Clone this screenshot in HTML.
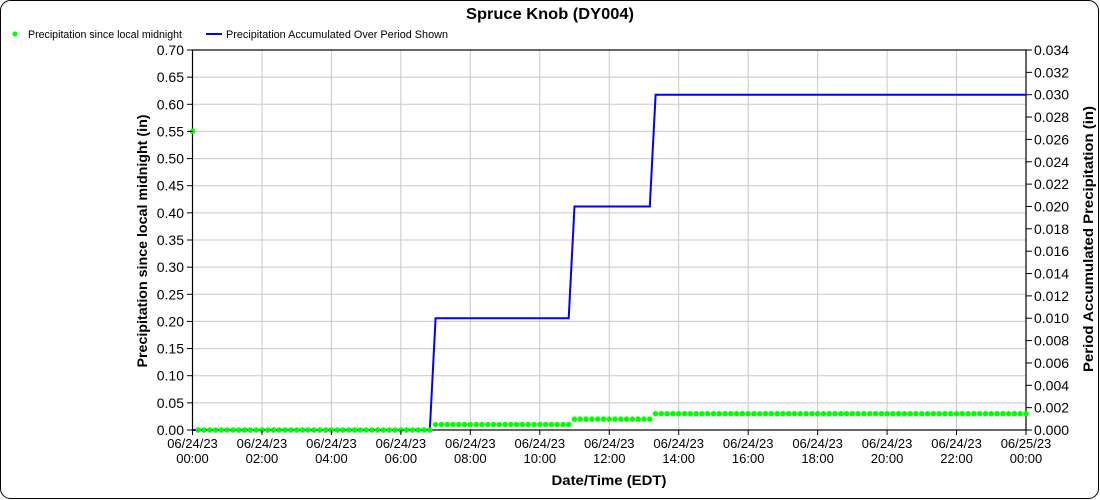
<!DOCTYPE html>
<html>
<head>
<meta charset="utf-8">
<style>
html,body{margin:0;padding:0;background:#fff;}
svg{display:block;font-family:"Liberation Sans",Arial,sans-serif;}
</style>
</head>
<body>
<svg width="1100" height="500" viewBox="0 0 1100 500" xmlns="http://www.w3.org/2000/svg">
<rect x="0.5" y="0.5" width="1098" height="498" rx="10" ry="10" fill="#fff" stroke="#000" stroke-width="1"/>

<!-- title -->
<text x="550" y="19" font-size="16" font-weight="bold" text-anchor="middle" textLength="168" lengthAdjust="spacingAndGlyphs">Spruce Knob (DY004)</text>

<!-- legend -->
<circle cx="15" cy="34" r="2.6" fill="#00ff00"/>
<text x="28" y="38" font-size="10.6" textLength="154" lengthAdjust="spacingAndGlyphs">Precipitation since local midnight</text>
<line x1="206" y1="34" x2="222" y2="34" stroke="#0000ff" stroke-width="2"/>
<text x="226" y="38" font-size="10.6" textLength="222" lengthAdjust="spacingAndGlyphs">Precipitation Accumulated Over Period Shown</text>

<!-- grid -->
<g stroke="#c8c8c8" stroke-width="1">
<line x1="192.5" y1="402.86" x2="1026" y2="402.86"/>
<line x1="192.5" y1="375.71" x2="1026" y2="375.71"/>
<line x1="192.5" y1="348.57" x2="1026" y2="348.57"/>
<line x1="192.5" y1="321.43" x2="1026" y2="321.43"/>
<line x1="192.5" y1="294.29" x2="1026" y2="294.29"/>
<line x1="192.5" y1="267.14" x2="1026" y2="267.14"/>
<line x1="192.5" y1="240" x2="1026" y2="240"/>
<line x1="192.5" y1="212.86" x2="1026" y2="212.86"/>
<line x1="192.5" y1="185.71" x2="1026" y2="185.71"/>
<line x1="192.5" y1="158.57" x2="1026" y2="158.57"/>
<line x1="192.5" y1="131.43" x2="1026" y2="131.43"/>
<line x1="192.5" y1="104.29" x2="1026" y2="104.29"/>
<line x1="192.5" y1="77.14" x2="1026" y2="77.14"/>
<line x1="261.96" y1="50" x2="261.96" y2="430"/>
<line x1="331.42" y1="50" x2="331.42" y2="430"/>
<line x1="400.87" y1="50" x2="400.87" y2="430"/>
<line x1="470.33" y1="50" x2="470.33" y2="430"/>
<line x1="539.79" y1="50" x2="539.79" y2="430"/>
<line x1="609.25" y1="50" x2="609.25" y2="430"/>
<line x1="678.71" y1="50" x2="678.71" y2="430"/>
<line x1="748.17" y1="50" x2="748.17" y2="430"/>
<line x1="817.62" y1="50" x2="817.62" y2="430"/>
<line x1="887.08" y1="50" x2="887.08" y2="430"/>
<line x1="956.54" y1="50" x2="956.54" y2="430"/>
</g>

<!-- frame -->
<rect x="192.5" y="50" width="833.5" height="380" fill="none" stroke="#000" stroke-width="1.2"/>

<!-- blue cumulative line -->
<polyline fill="none" stroke="#0000ff" stroke-width="2" stroke-linejoin="miter"
 points="192.5,430 429.8,430 435.6,318.24 568.7,318.24 574.5,206.47 649.8,206.47 655.6,94.71 1026,94.71"/>

<!-- green dots -->
<g stroke="#00ff00" stroke-width="5.5" stroke-linecap="round" stroke-dasharray="0 5.7882" fill="none">
<line x1="198.29" y1="430" x2="429.82" y2="430"/>
<line x1="435.6" y1="424.57" x2="568.73" y2="424.57"/>
<line x1="574.52" y1="419.14" x2="649.77" y2="419.14"/>
<line x1="655.56" y1="413.71" x2="1026.1" y2="413.71"/>
</g>
<circle cx="192.5" cy="131.43" r="2.75" fill="#00ff00"/>

<!-- left ticks -->
<g stroke="#000" stroke-width="1">
<line x1="187" y1="430" x2="192.5" y2="430"/>
<line x1="187" y1="402.86" x2="192.5" y2="402.86"/>
<line x1="187" y1="375.71" x2="192.5" y2="375.71"/>
<line x1="187" y1="348.57" x2="192.5" y2="348.57"/>
<line x1="187" y1="321.43" x2="192.5" y2="321.43"/>
<line x1="187" y1="294.29" x2="192.5" y2="294.29"/>
<line x1="187" y1="267.14" x2="192.5" y2="267.14"/>
<line x1="187" y1="240" x2="192.5" y2="240"/>
<line x1="187" y1="212.86" x2="192.5" y2="212.86"/>
<line x1="187" y1="185.71" x2="192.5" y2="185.71"/>
<line x1="187" y1="158.57" x2="192.5" y2="158.57"/>
<line x1="187" y1="131.43" x2="192.5" y2="131.43"/>
<line x1="187" y1="104.29" x2="192.5" y2="104.29"/>
<line x1="187" y1="77.14" x2="192.5" y2="77.14"/>
<line x1="187" y1="50" x2="192.5" y2="50"/>
</g>
<g font-size="14" text-anchor="end">
<text x="184" y="435">0.00</text>
<text x="184" y="407.86">0.05</text>
<text x="184" y="380.71">0.10</text>
<text x="184" y="353.57">0.15</text>
<text x="184" y="326.43">0.20</text>
<text x="184" y="299.29">0.25</text>
<text x="184" y="272.14">0.30</text>
<text x="184" y="245">0.35</text>
<text x="184" y="217.86">0.40</text>
<text x="184" y="190.71">0.45</text>
<text x="184" y="163.57">0.50</text>
<text x="184" y="136.43">0.55</text>
<text x="184" y="109.29">0.60</text>
<text x="184" y="82.14">0.65</text>
<text x="184" y="55">0.70</text>
</g>

<!-- right ticks -->
<g stroke="#000" stroke-width="1">
<line x1="1026" y1="430" x2="1032" y2="430"/>
<line x1="1026" y1="407.65" x2="1032" y2="407.65"/>
<line x1="1026" y1="385.29" x2="1032" y2="385.29"/>
<line x1="1026" y1="362.94" x2="1032" y2="362.94"/>
<line x1="1026" y1="340.59" x2="1032" y2="340.59"/>
<line x1="1026" y1="318.24" x2="1032" y2="318.24"/>
<line x1="1026" y1="295.88" x2="1032" y2="295.88"/>
<line x1="1026" y1="273.53" x2="1032" y2="273.53"/>
<line x1="1026" y1="251.18" x2="1032" y2="251.18"/>
<line x1="1026" y1="228.82" x2="1032" y2="228.82"/>
<line x1="1026" y1="206.47" x2="1032" y2="206.47"/>
<line x1="1026" y1="184.12" x2="1032" y2="184.12"/>
<line x1="1026" y1="161.76" x2="1032" y2="161.76"/>
<line x1="1026" y1="139.41" x2="1032" y2="139.41"/>
<line x1="1026" y1="117.06" x2="1032" y2="117.06"/>
<line x1="1026" y1="94.71" x2="1032" y2="94.71"/>
<line x1="1026" y1="72.35" x2="1032" y2="72.35"/>
<line x1="1026" y1="50" x2="1032" y2="50"/>
</g>
<g font-size="14" text-anchor="start">
<text x="1034" y="435">0.000</text>
<text x="1034" y="412.65">0.002</text>
<text x="1034" y="390.29">0.004</text>
<text x="1034" y="367.94">0.006</text>
<text x="1034" y="345.59">0.008</text>
<text x="1034" y="323.24">0.010</text>
<text x="1034" y="300.88">0.012</text>
<text x="1034" y="278.53">0.014</text>
<text x="1034" y="256.18">0.016</text>
<text x="1034" y="233.82">0.018</text>
<text x="1034" y="211.47">0.020</text>
<text x="1034" y="189.12">0.022</text>
<text x="1034" y="166.76">0.024</text>
<text x="1034" y="144.41">0.026</text>
<text x="1034" y="122.06">0.028</text>
<text x="1034" y="99.71">0.030</text>
<text x="1034" y="77.35">0.032</text>
<text x="1034" y="55">0.034</text>
</g>

<!-- bottom ticks -->
<g stroke="#000" stroke-width="1">
<line x1="192.5" y1="430" x2="192.5" y2="435"/>
<line x1="261.96" y1="430" x2="261.96" y2="435"/>
<line x1="331.42" y1="430" x2="331.42" y2="435"/>
<line x1="400.87" y1="430" x2="400.87" y2="435"/>
<line x1="470.33" y1="430" x2="470.33" y2="435"/>
<line x1="539.79" y1="430" x2="539.79" y2="435"/>
<line x1="609.25" y1="430" x2="609.25" y2="435"/>
<line x1="678.71" y1="430" x2="678.71" y2="435"/>
<line x1="748.17" y1="430" x2="748.17" y2="435"/>
<line x1="817.62" y1="430" x2="817.62" y2="435"/>
<line x1="887.08" y1="430" x2="887.08" y2="435"/>
<line x1="956.54" y1="430" x2="956.54" y2="435"/>
<line x1="1026" y1="430" x2="1026" y2="435"/>
</g>
<g font-size="13" text-anchor="middle">
<text x="192.5" y="448">06/24/23</text><text x="192.5" y="463">00:00</text>
<text x="261.96" y="448">06/24/23</text><text x="261.96" y="463">02:00</text>
<text x="331.42" y="448">06/24/23</text><text x="331.42" y="463">04:00</text>
<text x="400.87" y="448">06/24/23</text><text x="400.87" y="463">06:00</text>
<text x="470.33" y="448">06/24/23</text><text x="470.33" y="463">08:00</text>
<text x="539.79" y="448">06/24/23</text><text x="539.79" y="463">10:00</text>
<text x="609.25" y="448">06/24/23</text><text x="609.25" y="463">12:00</text>
<text x="678.71" y="448">06/24/23</text><text x="678.71" y="463">14:00</text>
<text x="748.17" y="448">06/24/23</text><text x="748.17" y="463">16:00</text>
<text x="817.62" y="448">06/24/23</text><text x="817.62" y="463">18:00</text>
<text x="887.08" y="448">06/24/23</text><text x="887.08" y="463">20:00</text>
<text x="956.54" y="448">06/24/23</text><text x="956.54" y="463">22:00</text>
<text x="1026" y="448">06/25/23</text><text x="1026" y="463">00:00</text>
</g>

<!-- axis titles -->
<text x="609" y="485" font-size="14" font-weight="bold" text-anchor="middle" textLength="115" lengthAdjust="spacingAndGlyphs">Date/Time (EDT)</text>
<text transform="translate(147,241) rotate(-90)" font-size="14" font-weight="bold" text-anchor="middle" textLength="253" lengthAdjust="spacingAndGlyphs">Precipitation since local midnight (in)</text>
<text transform="translate(1093,239) rotate(-90)" font-size="14" font-weight="bold" text-anchor="middle" textLength="266" lengthAdjust="spacingAndGlyphs">Period Accumulated Precipitation (in)</text>
</svg>
</body>
</html>
